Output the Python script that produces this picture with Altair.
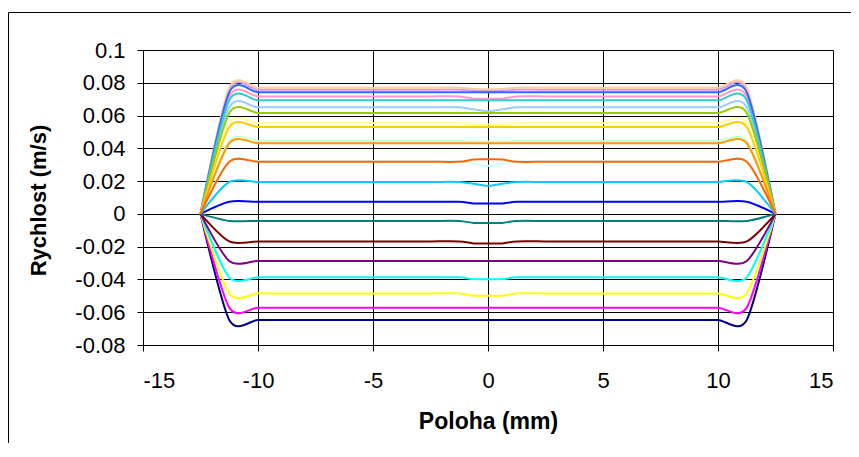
import altair as alt
import pandas as pd

# x positions of the measured profile points (mm)
positions = [-12.5, -11.25, -10, -8.75, -7.5, -6.25, -5, -3.75, -2.5, -1.25, -0.625, 0,
             0.625, 1.25, 2.5, 3.75, 5, 6.25, 7.5, 8.75, 10, 11.25, 12.5]

series_colors = ["#000080", "#FF00FF", "#FFFF00", "#00FFFF", "#800080", "#800000", "#008080",
                 "#0000FF", "#00CCFF", "#CCFFFF", "#CCFFCC", "#FFFF99", "#99CCFF", "#FF99CC",
                 "#CC99FF", "#FFCC99", "#3366FF", "#33CCCC", "#99CC00", "#FFCC00", "#FF9900",
                 "#FF6600"]

# plateau velocity (m/s) of each profile
plateau = [-0.0647, -0.0572, -0.0485, -0.0387, -0.0287, -0.0168, -0.0043, 0.0074, 0.0195,
           0.0322, 0.0445, 0.0553, 0.0650, 0.0717, 0.0758, 0.0770, 0.0742, 0.0693, 0.0616,
           0.0530, 0.0431, 0.0318]
# value at +-0.625 mm
shoulder = [-0.0647, -0.0572, -0.0499, -0.0398, -0.0287, -0.0180, -0.0055, 0.0064, 0.0184,
            0.0308, 0.0442, 0.0546, 0.0638, 0.0703, 0.0751, 0.0762, 0.0742, 0.0693, 0.0616,
            0.0530, 0.0431, 0.0332]
# value at 0 mm
center = [-0.0647, -0.0572, -0.0500, -0.0399, -0.0287, -0.0181, -0.0056, 0.0063, 0.0172,
          0.0294, 0.0441, 0.0545, 0.0626, 0.0702, 0.0750, 0.0760, 0.0742, 0.0693, 0.0616,
          0.0530, 0.0431, 0.0333]
wall_value = 0.0

x_ticks = [-15, -10, -5, 0, 5, 10, 15]
y_ticks = [-0.08, -0.06, -0.04, -0.02, 0, 0.02, 0.04, 0.06, 0.08, 0.1]

rows = []
names = []
for i in range(len(plateau)):
    name = f"s{i + 1:02d}"
    names.append(name)
    for p in positions:
        if abs(p) == 12.5:
            v = wall_value
        elif p == 0:
            v = center[i]
        elif abs(p) == 0.625:
            v = shoulder[i]
        else:
            v = plateau[i]
        rows.append({"series": name, "x": p, "v": v})
df = pd.DataFrame(rows)

FONT = "Liberation Sans"
label_expr = "replace(format(datum.value, '.2~f'), '\u2212', '-')"

lines = alt.Chart(df).mark_line(interpolate="cardinal", tension=0.2, strokeWidth=2, clip=True).encode(
    x=alt.X("x:Q", scale=alt.Scale(domain=[-15, 15], nice=False, zero=False),
            axis=alt.Axis(values=x_ticks, labelExpr=label_expr, title="Poloha (mm)",
                          labelBaseline="alphabetic", labelPadding=36,
                          titleX=345, titleY=83, titleBaseline="alphabetic",
                          titleAlign="center", titleAnchor="middle",
                          titleFontSize=23)),
    y=alt.Y("v:Q", scale=alt.Scale(domain=[-0.08, 0.1], nice=False, zero=False),
            axis=alt.Axis(values=y_ticks, labelExpr=label_expr, title="Rychlost (m/s)",
                          labelPadding=12, labelBaseline="middle",
                          titleX=-98, titleY=150, titleBaseline="alphabetic",
                          titleAlign="center", titleAngle=-90, titleFontSize=22)),
    color=alt.Color("series:N", scale=alt.Scale(domain=names, range=series_colors), legend=None),
)

frame_df = pd.DataFrame({"k": [0]})
border_left = alt.Chart(frame_df).mark_rule(color="black", strokeWidth=1).encode(
    x=alt.value(-134.5), y=alt.value(-37.5), y2=alt.value(420))
border_top = alt.Chart(frame_df).mark_rule(color="black", strokeWidth=1).encode(
    y=alt.value(-37.5), x=alt.value(-134.5), x2=alt.value(730))

chart = alt.layer(lines, border_left, border_top).properties(
    width=690, height=295,
    autosize=alt.AutoSizeParams(type="none"),
    padding={"left": 135, "top": 42, "right": 18, "bottom": 98},
    background="white",
).configure_view(stroke=None).configure_axis(
    grid=True, gridColor="black", gridWidth=1, gridOpacity=1,
    domainColor="black", domainWidth=1, tickColor="black", tickSize=6, tickWidth=1,
    labelFont=FONT, labelFontSize=22, labelColor="black",
    titleFont=FONT, titleFontWeight="bold", titleColor="black",
)

chart.save("out.html", embed_options={"renderer": "svg", "actions": False})
